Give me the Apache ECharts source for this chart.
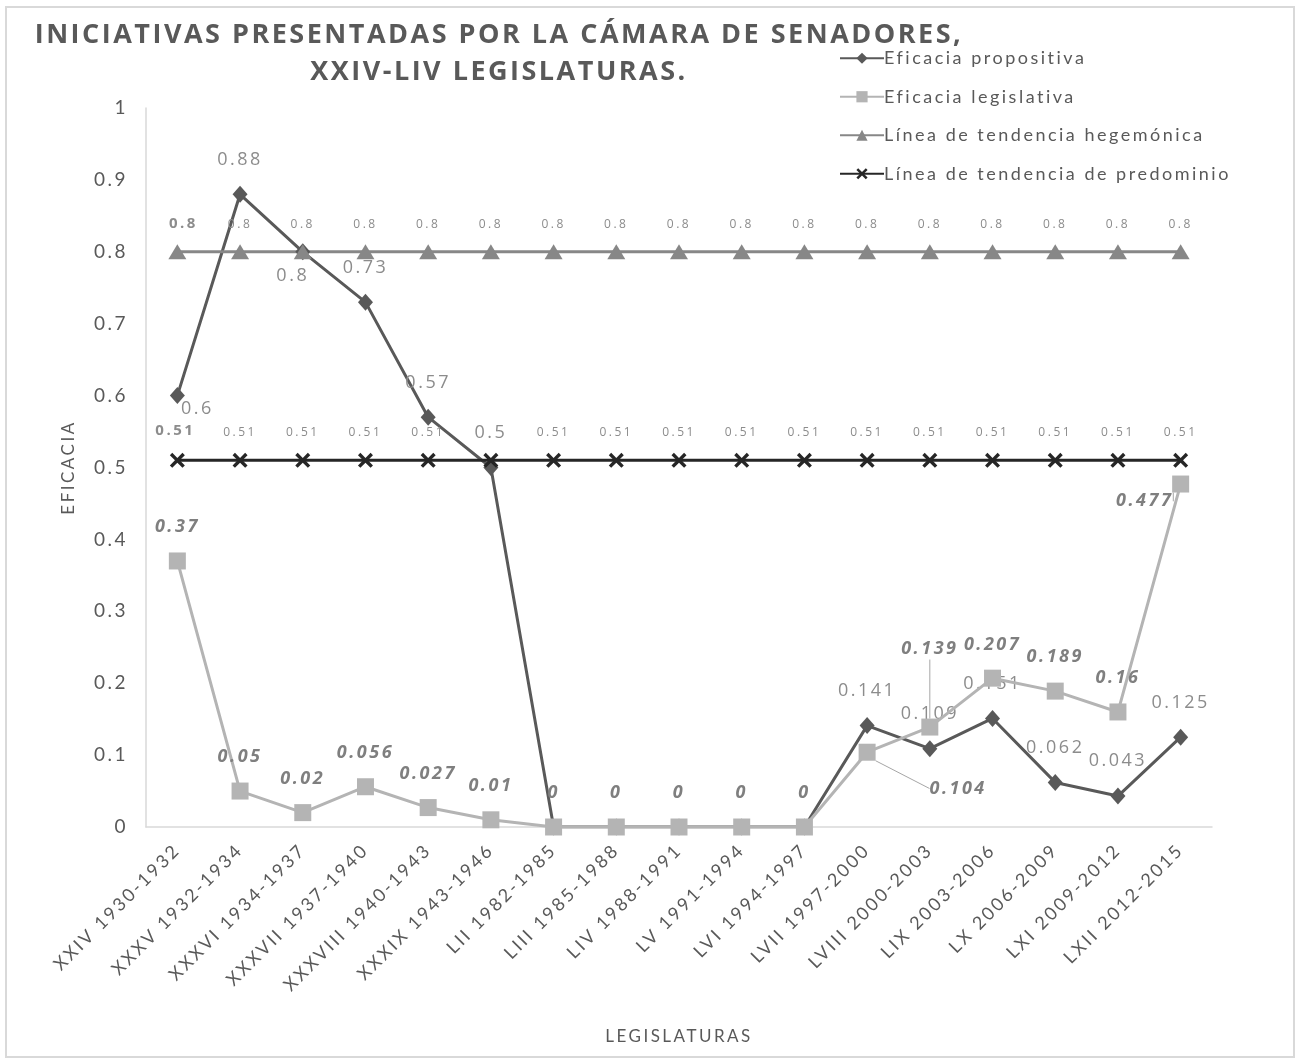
<!DOCTYPE html>
<html>
<head>
<meta charset="utf-8">
<script src="https://cdn.jsdelivr.net/npm/echarts@6/dist/echarts.min.js"></script>
<style>
  html, body { margin: 0; padding: 0; background: #fff; }
  #chart { width: 1300px; height: 1064px; }
</style>
</head>
<body>
<div id="chart"></div>
<script>
const legislaturas = [
  'XXIV 1930-1932', 'XXXV 1932-1934', 'XXXVI 1934-1937', 'XXXVII 1937-1940',
  'XXXVIII 1940-1943', 'XXXIX 1943-1946', 'LII 1982-1985', 'LIII 1985-1988',
  'LIV 1988-1991', 'LV 1991-1994', 'LVI 1994-1997', 'LVII 1997-2000',
  'LVIII 2000-2003', 'LIX 2003-2006', 'LX 2006-2009', 'LXI 2009-2012', 'LXII 2012-2015'
];
const propositiva = [0.6, 0.88, 0.8, 0.73, 0.57, 0.5, 0, 0, 0, 0, 0, 0.141, 0.109, 0.151, 0.062, 0.043, 0.125];
const legislativa = [0.37, 0.05, 0.02, 0.056, 0.027, 0.01, 0, 0, 0, 0, 0, 0.104, 0.139, 0.207, 0.189, 0.16, 0.477];
const hegemonica = [0.8, 0.8, 0.8, 0.8, 0.8, 0.8, 0.8, 0.8, 0.8, 0.8, 0.8, 0.8, 0.8, 0.8, 0.8, 0.8, 0.8];
const predominio = [0.51, 0.51, 0.51, 0.51, 0.51, 0.51, 0.51, 0.51, 0.51, 0.51, 0.51, 0.51, 0.51, 0.51, 0.51, 0.51, 0.51];
const yTicks = [0, 0.1, 0.2, 0.3, 0.4, 0.5, 0.6, 0.7, 0.8, 0.9, 1];

// the Excel export draws every text with wide tracking; canvas letterSpacing gives the same look
const getCtx = HTMLCanvasElement.prototype.getContext;
HTMLCanvasElement.prototype.getContext = function (type, opts) {
  const ctx = getCtx.call(this, type, opts);
  if (type === '2d' && ctx && 'letterSpacing' in ctx) ctx.letterSpacing = '2.5px';
  return ctx;
};

const LABEL_FONT = '"Open Sans", sans-serif';
const AXIS_FONT = 'Lato, "Open Sans", sans-serif';
const xMark = 'path://M0,1.6L1.6,0L5,3.4L8.4,0L10,1.6L6.6,5L10,8.4L8.4,10L5,6.6L1.6,10L0,8.4L3.4,5Z';

// special label placements for the dark series
const propLabel = {
  0: { position: 'inside', offset: [20, 13] },
  2: { position: 'inside', offset: [-10, 24] }
};
// label moves with leader lines for the light series
const legMoves = {
  11: { dx: 91, dy: 70 },
  12: { dx: 0, dy: -44 },
  16: { dx: -36, dy: 51 }
};

const propData = propositiva.map((v, i) => {
  const item = { value: v };
  if (v === 0) item.label = { show: false };
  else if (propLabel[i]) item.label = propLabel[i];
  return item;
});
const legData = legislativa.map((v, i) => {
  const item = { value: v };
  if (legMoves[i]) item.labelLine = { show: true };
  return item;
});
const hegData = hegemonica.map((v, i) => i === 0
  ? { value: v, label: { fontWeight: 'bold', fontSize: 15, offset: [6, 0] } }
  : v);
// the 0.51 tag above XXXIX is covered by the 0.5 label in the original
const predData = predominio.map((v, i) => {
  if (i === 0) return { value: v, label: { fontWeight: 'bold', fontSize: 15, offset: [-2, 0] } };
  if (i === 5) return { value: v, label: { show: false } };
  return v;
});

const chart = echarts.init(document.getElementById('chart'));
chart.setOption({
  backgroundColor: '#fff',
  animation: false,
  graphic: [
    {
      type: 'rect',
      shape: { x: 6, y: 7, width: 1288, height: 1050 },
      style: { fill: 'none', stroke: '#d9d9d9', lineWidth: 2 }
    },
    {
      type: 'text',
      x: 499, y: 17,
      style: {
        text: 'INICIATIVAS PRESENTADAS POR LA CÁMARA DE SENADORES,\nXXIV-LIV LEGISLATURAS.',
        align: 'center',
        font: 'bold 27px "Open Sans", sans-serif',
        lineHeight: 37,
        fill: '#595959'
      }
    }
  ],
  legend: {
    orient: 'vertical',
    left: 834,
    top: 43,
    itemWidth: 44,
    itemHeight: 14,
    itemGap: 18,
    textStyle: { color: '#595959', fontSize: 18, fontFamily: AXIS_FONT, padding: [0, 0, 0, -5] }
  },
  grid: { left: 146, right: 88, top: 108, bottom: 237 },
  xAxis: {
    type: 'category',
    data: legislaturas,
    name: 'LEGISLATURAS',
    nameLocation: 'middle',
    nameGap: 200,
    nameTextStyle: { color: '#595959', fontSize: 17, fontFamily: AXIS_FONT },
    axisLine: { lineStyle: { color: '#d9d9d9', width: 1.5 } },
    axisTick: { show: false },
    axisLabel: { rotate: 45, margin: 20, color: '#595959', fontSize: 18, fontFamily: AXIS_FONT, interval: 0 }
  },
  yAxis: {
    type: 'value',
    min: 0,
    max: 1,
    interval: 0.1,
    name: 'EFICACIA',
    nameLocation: 'middle',
    nameGap: 68,
    nameTextStyle: { color: '#595959', fontSize: 17, fontFamily: AXIS_FONT },
    axisLine: { show: true, lineStyle: { color: '#d9d9d9', width: 1.5 } },
    axisTick: { show: false },
    splitLine: { show: false },
    axisLabel: {
      margin: 18, color: '#595959', fontSize: 19, fontFamily: AXIS_FONT,
      formatter: v => yTicks.includes(Math.round(v * 10) / 10) ? String(Math.round(v * 10) / 10) : ''
    }
  },
  series: [
    {
      name: 'Eficacia propositiva',
      type: 'line',
      data: propData,
      symbol: 'diamond',
      symbolSize: [15, 17],
      lineStyle: { color: '#595959', width: 3 },
      itemStyle: { color: '#595959' },
      label: {
        show: true, position: 'top', distance: 16,
        color: '#8c8c8c', fontSize: 18, fontFamily: LABEL_FONT
      },
      z: 2
    },
    {
      name: 'Eficacia legislativa',
      type: 'line',
      data: legData,
      symbol: 'rect',
      symbolSize: 17,
      lineStyle: { color: '#b4b4b4', width: 3 },
      itemStyle: { color: '#b4b4b4' },
      label: {
        show: true, position: 'top', distance: 15,
        color: '#7f7f7f', fontSize: 18, fontWeight: 'bold', fontStyle: 'italic', fontFamily: LABEL_FONT
      },
      labelLine: { show: false, lineStyle: { color: '#a6a6a6', width: 1 } },
      labelLayout: p => legMoves[p.dataIndex] || {},
      z: 3
    },
    {
      name: 'Línea de tendencia hegemónica',
      type: 'line',
      data: hegData,
      symbol: 'triangle',
      symbolSize: [18, 15],
      lineStyle: { color: '#878787', width: 3 },
      itemStyle: { color: '#878787' },
      label: {
        show: true, position: 'top', distance: 12,
        color: '#8c8c8c', fontSize: 12, fontFamily: LABEL_FONT
      },
      z: 2
    },
    {
      name: 'Línea de tendencia de predominio',
      type: 'line',
      data: predData,
      symbol: xMark,
      symbolSize: 15,
      lineStyle: { color: '#262626', width: 3 },
      itemStyle: { color: '#262626' },
      label: {
        show: true, position: 'top', distance: 13,
        color: '#8c8c8c', fontSize: 12, fontFamily: LABEL_FONT
      },
      z: 2
    }
  ]
});
</script>
</body>
</html>
